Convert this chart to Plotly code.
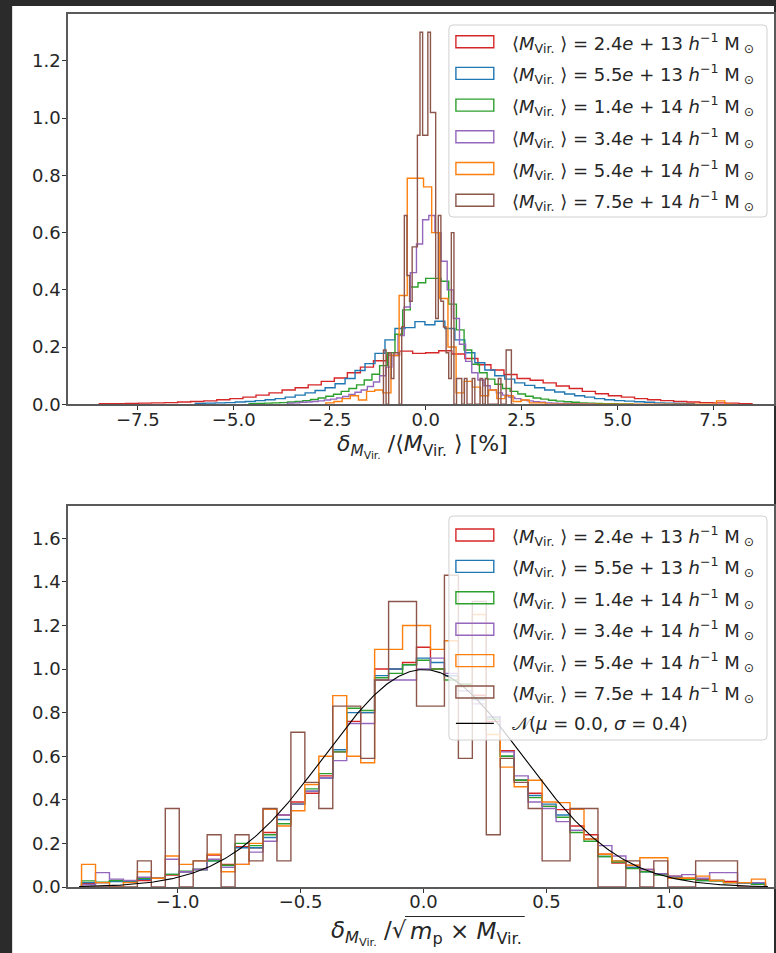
import numpy as np
import plotly.graph_objects as go

W, H = 776, 953

# ---------------- legend labels ----------------
MASS_MANT = ["2.4", "5.5", "1.4", "3.4", "5.4", "7.5"]
MASS_EXP = ["13", "13", "14", "14", "14", "14"]
COLORS = ["#d62728", "#1f77b4", "#2ca02c", "#9467bd", "#ff7f0e", "#8c564b"]

# ---------------- top panel: bin ranges (50 bins each) and densities ----------------
TOP_RANGES = [(-8.5, 8.5), (-6.0, 7.0), (-4.6, 5.4), (-3.6, 4.4), (-2.6, 8.0), (-1.1, 2.3)]
TOP_NBINS = 50

top_red = [0.002, 0.002, 0.003, 0.004, 0.005, 0.006, 0.008, 0.010, 0.012, 0.016,
           0.020, 0.025, 0.032, 0.040, 0.050, 0.058, 0.068, 0.080, 0.092, 0.110,
           0.130, 0.152, 0.172, 0.186, 0.178, 0.180, 0.187, 0.176, 0.160, 0.138,
           0.120, 0.104, 0.090, 0.084, 0.075, 0.064, 0.055, 0.045, 0.037, 0.030,
           0.025, 0.020, 0.016, 0.013, 0.010, 0.008, 0.006, 0.005, 0.004, 0.002]
top_blue = [0.003, 0.004, 0.005, 0.006, 0.008, 0.010, 0.013, 0.016, 0.020, 0.025,
            0.032, 0.040, 0.048, 0.058, 0.072, 0.090, 0.118, 0.142, 0.178, 0.225,
            0.265, 0.268, 0.289, 0.278, 0.290, 0.265, 0.225, 0.180, 0.145, 0.120,
            0.100, 0.088, 0.075, 0.066, 0.058, 0.050, 0.043, 0.036, 0.030, 0.025,
            0.020, 0.016, 0.013, 0.011, 0.009, 0.007, 0.005, 0.004, 0.003, 0.002]
top_green = [0.002, 0.003, 0.004, 0.005, 0.006, 0.008, 0.010, 0.013, 0.017, 0.022,
             0.028, 0.035, 0.045, 0.055, 0.068, 0.085, 0.105, 0.135, 0.180, 0.245,
             0.330, 0.410, 0.425, 0.440, 0.440, 0.430, 0.350, 0.260, 0.190, 0.140,
             0.110, 0.088, 0.070, 0.055, 0.045, 0.036, 0.028, 0.022, 0.018, 0.014,
             0.011, 0.009, 0.007, 0.005, 0.004, 0.003, 0.002, 0.002, 0.001, 0.001]
top_purple = [0.004, 0.005, 0.007, 0.008, 0.010, 0.012, 0.015, 0.018, 0.022, 0.027,
              0.034, 0.042, 0.050, 0.062, 0.078, 0.100, 0.130, 0.170, 0.240, 0.340,
              0.460, 0.560, 0.645, 0.660, 0.600, 0.500, 0.400, 0.300, 0.210, 0.150,
              0.110, 0.085, 0.065, 0.050, 0.040, 0.032, 0.025, 0.020, 0.015, 0.012,
              0.009, 0.007, 0.005, 0.004, 0.003, 0.003, 0.002, 0.002, 0.001, 0.001]
top_orange = [0.005, 0.010, 0.020, 0.030, 0.015, 0.045, 0.050, 0.040, 0.170, 0.380,
              0.790, 0.790, 0.760, 0.600, 0.370, 0.200, 0.040, 0.080, 0.060, 0.030,
              0.050, 0.020, 0.030, 0.010, 0.015, 0.005, 0.005, 0.000, 0.000, 0.000,
              0.000, 0.000, 0.000, 0.000, 0.000, 0.000, 0.000, 0.000, 0.000, 0.000,
              0.000, 0.000, 0.000, 0.000, 0.000, 0.000, 0.000, 0.000, 0.012, 0.000]
top_brown = [0.19, 0.00, 0.18, 0.09, 0.18, 0.18, 0.00, 0.27, 0.66, 0.45,
             0.36, 0.55, 0.55, 0.94, 1.30, 0.94, 0.94, 1.30, 1.02, 1.02,
             0.30, 0.66, 0.36, 0.27, 0.18, 0.09, 0.60, 0.00, 0.09, 0.09,
             0.00, 0.09, 0.00, 0.00, 0.09, 0.00, 0.00, 0.09, 0.00, 0.09,
             0.00, 0.00, 0.00, 0.00, 0.09, 0.00, 0.00, 0.19, 0.19, 0.00]
TOP_VALUES = [top_red, top_blue, top_green, top_purple, top_orange, top_brown]

# ---------------- bottom panel: common bins and densities ----------------
BOT_RANGE = (-1.39, 1.39)
BOT_NBINS = 49

bot_red = [0.016, 0.020, 0.028, 0.028, 0.030, 0.040, 0.055, 0.070, 0.080, 0.147,
           0.104, 0.185, 0.180, 0.250, 0.330, 0.390, 0.430, 0.510, 0.620, 0.760,
           0.800, 1.000, 1.000, 1.030, 1.100, 1.000, 0.970, 0.930, 0.880, 0.760,
           0.625, 0.490, 0.430, 0.370, 0.355, 0.280, 0.240, 0.150, 0.110, 0.090,
           0.080, 0.060, 0.050, 0.040, 0.035, 0.030, 0.025, 0.020, 0.016]
bot_blue = [0.020, 0.020, 0.025, 0.025, 0.035, 0.040, 0.058, 0.070, 0.080, 0.120,
            0.090, 0.180, 0.180, 0.227, 0.310, 0.380, 0.440, 0.500, 0.630, 0.800,
            0.800, 0.970, 1.000, 1.020, 1.050, 1.030, 0.970, 0.920, 0.860, 0.780,
            0.600, 0.490, 0.420, 0.380, 0.330, 0.260, 0.220, 0.140, 0.120, 0.090,
            0.070, 0.060, 0.045, 0.035, 0.030, 0.030, 0.020, 0.018, 0.015]
bot_green = [0.028, 0.022, 0.030, 0.022, 0.040, 0.040, 0.058, 0.072, 0.080, 0.120,
             0.100, 0.200, 0.190, 0.240, 0.290, 0.380, 0.450, 0.520, 0.620, 0.820,
             0.810, 0.960, 0.980, 1.020, 1.040, 1.000, 0.950, 0.930, 0.870, 0.770,
             0.600, 0.490, 0.410, 0.370, 0.320, 0.250, 0.210, 0.140, 0.115, 0.085,
             0.070, 0.055, 0.040, 0.035, 0.030, 0.028, 0.020, 0.020, 0.012]
bot_purple = [0.010, 0.066, 0.036, 0.030, 0.045, 0.040, 0.127, 0.070, 0.080, 0.127,
              0.090, 0.104, 0.160, 0.210, 0.330, 0.380, 0.440, 0.500, 0.580, 0.750,
              0.750, 0.950, 0.950, 0.950, 1.000, 1.050, 0.980, 0.900, 0.840, 0.780,
              0.620, 0.510, 0.390, 0.360, 0.300, 0.260, 0.220, 0.190, 0.142, 0.100,
              0.080, 0.060, 0.050, 0.057, 0.040, 0.066, 0.066, 0.020, 0.020]
bot_orange = [0.104, 0.020, 0.000, 0.020, 0.070, 0.040, 0.142, 0.104, 0.120, 0.150,
              0.070, 0.104, 0.200, 0.356, 0.280, 0.350, 0.470, 0.600, 0.878, 0.600,
              0.570, 1.090, 1.090, 1.200, 1.200, 1.090, 1.130, 0.920, 1.250, 0.700,
              0.550, 0.460, 0.490, 0.390, 0.387, 0.356, 0.220, 0.150, 0.120, 0.100,
              0.134, 0.134, 0.040, 0.040, 0.050, 0.030, 0.020, 0.020, 0.036]
bot_brown = [0.00, 0.00, 0.00, 0.00, 0.12, 0.00, 0.36, 0.00, 0.12, 0.24,
             0.00, 0.24, 0.12, 0.36, 0.12, 0.71, 0.48, 0.36, 0.83, 0.83,
             0.59, 0.95, 1.31, 1.31, 0.83, 0.83, 1.43, 0.59, 1.31, 0.24,
             0.59, 0.48, 0.36, 0.12, 0.12, 0.36, 0.36, 0.00, 0.00, 0.12,
             0.00, 0.12, 0.00, 0.00, 0.12, 0.12, 0.12, 0.00, 0.00]
BOT_VALUES = [bot_red, bot_blue, bot_green, bot_purple, bot_orange, bot_brown]

NORM_MU, NORM_SIGMA = 0.0, 0.4

# ---------------- layout geometry (pixels) ----------------
ML, MT, MR, MB = 68, 14, 0, 66
PW, PH = W - ML - MR, H - MT - MB


def fx(px):
    return (px - ML) / PW


def fy(py):
    return 1 - (py - MT) / PH


def step_xy(edges, heights):
    xs = [edges[0]] + list(edges)
    ys = [0.0] + list(heights) + [0.0]
    return xs, ys


LW = 1.4
fig = go.Figure()

for k in range(6):
    lo, hi = TOP_RANGES[k]
    edges = np.linspace(lo, hi, TOP_NBINS + 1)
    xs, ys = step_xy(edges, TOP_VALUES[k])
    fig.add_trace(go.Scatter(x=xs, y=ys, mode="lines", line_shape="hv",
                             line=dict(color=COLORS[k], width=LW),
                             showlegend=False, hoverinfo="skip",
                             xaxis="x", yaxis="y"))

bedges = np.linspace(BOT_RANGE[0], BOT_RANGE[1], BOT_NBINS + 1)
for k in range(6):
    xs, ys = step_xy(bedges, BOT_VALUES[k])
    fig.add_trace(go.Scatter(x=xs, y=ys, mode="lines", line_shape="hv",
                             line=dict(color=COLORS[k], width=LW),
                             showlegend=False, hoverinfo="skip",
                             xaxis="x2", yaxis="y2"))

xg = np.linspace(-1.4, 1.4, 400)
yg = np.exp(-0.5 * ((xg - NORM_MU) / NORM_SIGMA) ** 2) / (NORM_SIGMA * np.sqrt(2 * np.pi))
fig.add_trace(go.Scatter(x=xg, y=yg, mode="lines", line=dict(color="black", width=1.1),
                         showlegend=False, hoverinfo="skip", xaxis="x2", yaxis="y2"))

FONT = "DejaVu Sans"
TXT = "#262626"
TICK_SIZE = 18
axis_common = dict(showgrid=False, zeroline=False, showline=True, mirror=True,
                   linecolor="#5a5a5a", linewidth=1.6, ticks="outside", ticklen=4,
                   tickwidth=1, tickcolor="#333333",
                   tickfont=dict(family=FONT, size=TICK_SIZE, color=TXT), tickformat=".1f")

fig.update_layout(
    width=W, height=H,
    margin=dict(l=ML, r=MR, t=MT, b=MB, pad=0),
    paper_bgcolor="#2b2b2b", plot_bgcolor="rgba(0,0,0,0)",
    showlegend=False,
    xaxis=dict(domain=[0, 1], anchor="y", range=[(68 - 426.7) / 38.5, (776 - 426.7) / 38.5],
               tickvals=[-7.5, -5.0, -2.5, 0.0, 2.5, 5.0, 7.5], ticklabelstandoff=-6,
               **axis_common),
    yaxis=dict(domain=[fy(404.3), fy(14)], anchor="x", range=[0, 1.364],
               tickvals=[0, 0.2, 0.4, 0.6, 0.8, 1.0, 1.2], ticklabelstandoff=-2,
               **axis_common),
    xaxis2=dict(domain=[0, 1], anchor="y2", range=[(68 - 424.5) / 246.7, (776 - 424.5) / 246.7],
                tickvals=[-1.0, -0.5, 0.0, 0.5, 1.0], ticklabelstandoff=-6, **axis_common),
    yaxis2=dict(domain=[fy(887), fy(506)], anchor="x2", range=[0, 1.748],
                tickvals=[0, 0.2, 0.4, 0.6, 0.8, 1.0, 1.2, 1.4, 1.6], ticklabelstandoff=-2,
                **axis_common),
)

shapes = []
# white figure canvas
shapes.append(dict(type="rect", xref="paper", yref="paper", x0=fx(12), x1=fx(776),
                   y0=fy(953), y1=fy(6), fillcolor="white", line=dict(width=0), layer="below"))


def rounded_box(x0, y0, x1, y1, r=4):
    p = []
    p.append(f"M {fx(x0 + r)},{fy(y0)}")
    p.append(f"L {fx(x1 - r)},{fy(y0)}")
    p.append(f"Q {fx(x1)},{fy(y0)} {fx(x1)},{fy(y0 + r)}")
    p.append(f"L {fx(x1)},{fy(y1 - r)}")
    p.append(f"Q {fx(x1)},{fy(y1)} {fx(x1 - r)},{fy(y1)}")
    p.append(f"L {fx(x0 + r)},{fy(y1)}")
    p.append(f"Q {fx(x0)},{fy(y1)} {fx(x0)},{fy(y1 - r)}")
    p.append(f"L {fx(x0)},{fy(y0 + r)}")
    p.append(f"Q {fx(x0)},{fy(y0)} {fx(x0 + r)},{fy(y0)}")
    p.append("Z")
    return dict(type="path", xref="paper", yref="paper", path=" ".join(p),
                fillcolor="rgba(255,255,255,0.8)", line=dict(color="#d0d0d0", width=1),
                layer="above")


annotations = []
LEG_SIZE = 18


def legend_block(x0, y0, x1, y1, row0, dy, with_norm):
    shapes.append(rounded_box(x0, y0, x1, y1))
    for k in range(6):
        yc = row0 + k * dy
        shapes.append(dict(type="rect", xref="paper", yref="paper",
                           x0=fx(457), x1=fx(495), y0=fy(yc + 6), y1=fy(yc - 6),
                           fillcolor="rgba(0,0,0,0)", line=dict(color=COLORS[k], width=LW),
                           layer="above"))
        txt = ("⟨<i>M</i><sub>Vir.</sub> ⟩ = " + MASS_MANT[k] + "<i>e</i> + " + MASS_EXP[k]
               + " <i>h</i><sup>−1</sup> M<sub> ⊙</sub>")
        annotations.append(dict(xref="paper", yref="paper", x=fx(511), y=fy(yc + 1),
                                xanchor="left", yanchor="middle", showarrow=False, text=txt,
                                font=dict(family=FONT, size=LEG_SIZE, color=TXT)))
    if with_norm:
        yc = row0 + 6 * dy
        shapes.append(dict(type="line", xref="paper", yref="paper", x0=fx(457), x1=fx(495),
                           y0=fy(yc), y1=fy(yc), line=dict(color="black", width=1.1),
                           layer="above"))
        annotations.append(dict(xref="paper", yref="paper", x=fx(511), y=fy(yc),
                                xanchor="left", yanchor="middle", showarrow=False,
                                text="𝒩(<i>μ</i> = 0.0, <i>σ</i> = 0.4)",
                                font=dict(family=FONT, size=LEG_SIZE, color=TXT)))


legend_block(450, 25, 769, 217, 41.7, 31.7, False)
legend_block(450, 516, 769, 740, 535, 31.4, True)

# axis titles
TITLE_SIZE = 22
annotations.append(dict(xref="paper", yref="paper", x=fx(424), y=fy(446), xanchor="center",
                        yanchor="middle", showarrow=False,
                        text="<i>δ</i><sub><i>M</i><sub>Vir.</sub></sub> /⟨<i>M</i><sub>Vir.</sub> ⟩ [%]",
                        font=dict(family=FONT, size=TITLE_SIZE, color=TXT)))
SPLIT_X = 410
annotations.append(dict(xref="paper", yref="paper", x=fx(SPLIT_X), y=fy(933), xanchor="right",
                        yanchor="middle", showarrow=False,
                        text="<i>δ</i><sub><i>M</i><sub>Vir.</sub></sub> /√",
                        font=dict(family=FONT, size=23, color=TXT)))
annotations.append(dict(xref="paper", yref="paper", x=fx(SPLIT_X - 1), y=fy(933), xanchor="left",
                        yanchor="middle", showarrow=False,
                        text="<i>m</i><sub>p</sub> × <i>M</i><sub>Vir.</sub>",
                        font=dict(family=FONT, size=23, color=TXT)))
shapes.append(dict(type="line", xref="paper", yref="paper", x0=fx(SPLIT_X - 4), x1=fx(SPLIT_X + 116),
                   y0=fy(916.5), y1=fy(916.5), line=dict(color=TXT, width=1.2), layer="above"))

fig.update_layout(shapes=shapes, annotations=annotations)
fig.write_html("out.html")
